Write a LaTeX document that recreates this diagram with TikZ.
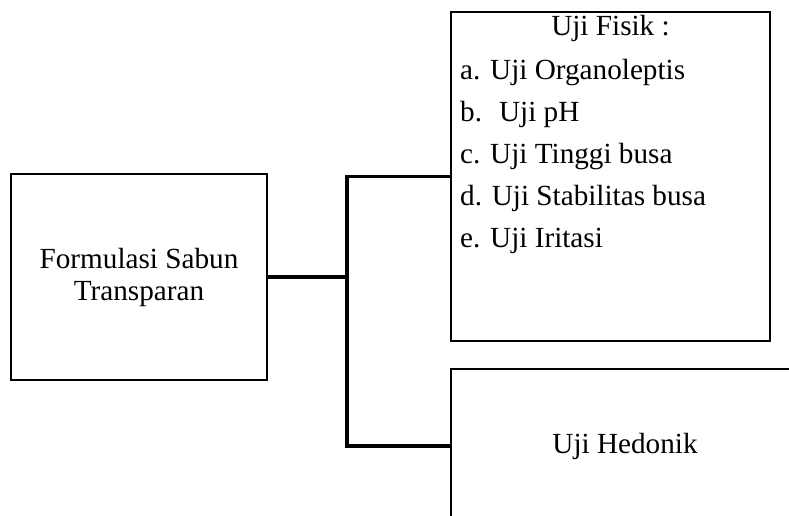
\documentclass[tikz,border=0pt]{standalone}
\usepackage{fontspec}
\setmainfont{Liberation Serif}
\usepackage{tikz}

\tikzset{
	kotak/.style={draw=black, line width=2.5pt, rectangle, inner sep=0pt, outer sep=0pt, align=center, font=\fontsize{29.2}{32}\selectfont},
	garis/.style={draw=black, line width=3.5pt},
	butir/.style={black, anchor=base west, inner sep=0pt, font=\fontsize{29.2}{32}\selectfont}
}

\begin{document}
\begin{tikzpicture}[x=1pt, y=-1pt]
		\useasboundingbox (0,0) rectangle (789,515);
		\clip (0,0) rectangle (789,515);
		\node[kotak, minimum width=256pt, minimum height=206pt] (formulasi) at (139,277) {Formulasi Sabun\\Transparan};
		\node[kotak, minimum width=319pt, minimum height=329pt] (fisik) at (610.5,176.5) {};
		\node[kotak, minimum width=348pt, minimum height=154pt] (hedonik) at (625,446) {Uji Hedonik};
		\node[butir, anchor=base] (judul) at (610.5,35) {Uji Fisik :};
		\node[butir] (uji1) at (460,79) {a. Uji Organoleptis};
		\node[butir] (uji2) at (460,121) {b.~ Uji pH};
		\node[butir] (uji3) at (460,163) {c. Uji Tinggi busa};
		\node[butir] (uji4) at (460,205) {d. Uji Stabilitas busa};
		\node[butir] (uji5) at (460,247) {e. Uji Iritasi};
		\coordinate (cabang) at (347,277);
		\draw[garis] (formulasi.east) -- (cabang);
		\draw[garis] (fisik.west) -| (cabang) |- (hedonik.west);
	\end{tikzpicture}
\end{document}
